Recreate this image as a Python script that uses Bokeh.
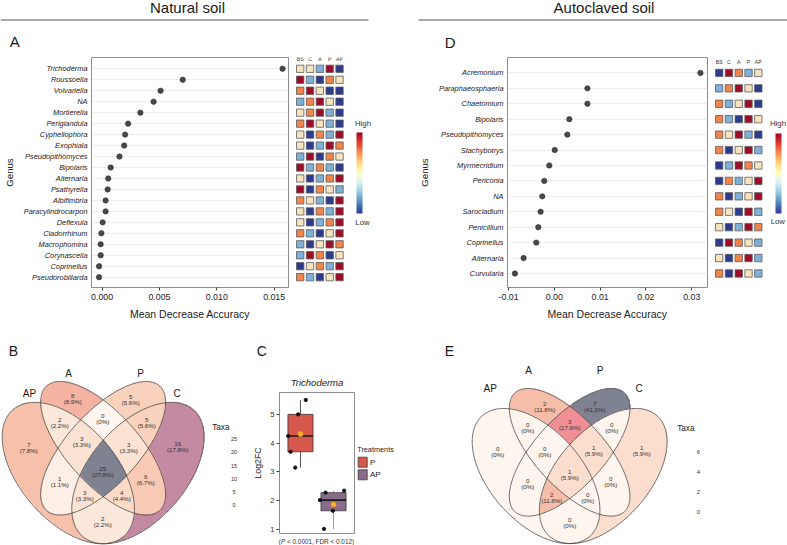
import numpy as np
from bokeh.plotting import figure
from bokeh.layouts import column, row
from bokeh.models import Range1d, FixedTicker, PrintfTickFormatter, ColorBar, LinearColorMapper
from bokeh.core.properties import value
from bokeh.embed import file_html
from bokeh.resources import INLINE

FONT = "Liberation Sans"

# ---------------- data ----------------
heat_cols = ["BS", "C", "A", "P", "AP"]

genus_A = ["Trichoderma", "Roussoella", "Volvariella", "NA", "Mortierella", "Periglandula",
           "Cyphellophora", "Exophiala", "Pseudopithomyces", "Bipolaris", "Alternaria",
           "Psathyrella", "Albifimbria", "Paracylindrocarpon", "Deflexula", "Cladorrhinum",
           "Macrophomina", "Corynascella", "Coprinellus", "Pseudorobillarda"]
mda_A = [0.01573, 0.00703, 0.00510, 0.00449, 0.00334, 0.00227, 0.00201, 0.00193, 0.00152,
         0.00075, 0.00054, 0.00049, 0.00031, 0.00031, 0.00005, -0.00006, -0.00012,
         -0.00012, -0.00026, -0.00026]
heat_A = [[3, 3, 2, 5, 1], [5, 2, 1, 4, 3], [4, 5, 3, 1, 1], [2, 4, 5, 3, 1], [3, 4, 5, 2, 1],
          [4, 5, 3, 2, 1], [3, 1, 4, 2, 5], [3, 1, 2, 5, 4], [2, 5, 1, 4, 3], [5, 2, 4, 2, 1],
          [3, 1, 2, 4, 5], [5, 1, 4, 3, 2], [4, 3, 2, 1, 5], [3, 1, 4, 2, 5], [3, 1, 2, 4, 5],
          [4, 2, 1, 3, 5], [2, 1, 3, 5, 4], [2, 5, 4, 1, 3], [1, 3, 4, 2, 5], [4, 2, 1, 3, 5]]

genus_D = ["Acremonium", "Paraphaeosphaeria", "Chaetomium", "Bipolaris", "Pseudopithomyces",
           "Stachybotrys", "Myrmecridium", "Periconia", "NA", "Sarocladium", "Penicillium",
           "Coprinellus", "Alternaria", "Curvularia"]
mda_D = [0.0319, 0.00723, 0.00723, 0.00328, 0.00285, 0.00009, -0.0011, -0.00219, -0.00263,
         -0.00299, -0.0035, -0.00394, -0.0067, -0.0086]
heat_D = [[1, 5, 4, 2, 3], [2, 4, 5, 3, 1], [4, 2, 3, 5, 1], [4, 2, 1, 5, 3], [4, 3, 5, 2, 1],
          [4, 1, 3, 5, 2], [1, 2, 5, 4, 3], [1, 4, 2, 3, 5], [4, 1, 2, 3, 5], [4, 3, 1, 5, 2],
          [3, 1, 2, 5, 4], [1, 5, 4, 3, 2], [3, 1, 4, 5, 2], [4, 1, 5, 3, 2]]

venn_sets = ["AP", "A", "P", "C"]
venn_regions = ["AP", "A", "P", "C", "A&P", "AP&A", "P&C", "AP&A&P", "A&P&C", "AP&A&P&C",
                "AP&P", "AP&P&C", "AP&A&C", "A&C", "AP&C"]
venn_B = [7, 8, 5, 16, 0, 2, 5, 3, 3, 25, 1, 3, 4, 6, 2]
venn_E = [0, 2, 7, 1, 3, 0, 0, 0, 1, 1, 0, 2, 0, 0, 0]
taxa_ticks_B = [0, 5, 10, 15, 20, 25]
taxa_ticks_E = [0, 2, 4, 6]

box_groups = ["P", "AP"]
box_P = [5.5, 5.0, 4.25, 3.7, 3.15]
box_AP = [2.35, 2.28, 2.02, 1.65, 1.02]
jitter_P = [0.16, -0.07, -0.37, -0.30, -0.16]
jitter_AP = [0.32, -0.24, -0.41, -0.02, -0.29]


# ---------------- helpers ----------------
def canvas(x0, x1, y0, y1):
    p = figure(width=x1 - x0, height=y1 - y0,
               x_range=Range1d(x0, x1), y_range=Range1d(-y1, -y0),
               x_axis_type=None, y_axis_type=None, output_backend="svg",
               toolbar_location=None, min_border=0, frame_align=False)
    p.outline_line_color = None
    return p


def put(p, x, y, s, size, align="center", style="normal", color="#1a1a1a"):
    p.text(x=[x], y=[-y], text=[s], text_font=value(FONT), text_font_size=f"{size}px",
           text_align=align, text_baseline="middle", text_font_style=style, text_color=color)


heat_colors = ["#2c3b8e", "#7fb0d8", "#f6e4c0", "#f1844a", "#9f0c28"]
bar_stops = ["#313695", "#4575b4", "#74add1", "#abd9e9", "#e0f3f8", "#ffffbf",
             "#fee090", "#fdae61", "#f46d43", "#d73027", "#a50026"]


def interp_hex(stops, n):
    rgb = np.array([[int(h[i:i + 2], 16) for i in (1, 3, 5)] for h in stops], dtype=float)
    pos = np.linspace(0, 1, len(stops))
    out = []
    for tt in np.linspace(0, 1, n):
        c = [np.interp(tt, pos, rgb[:, k]) for k in range(3)]
        out.append("#%02x%02x%02x" % tuple(int(round(v)) for v in c))
    return out


bar_pal = interp_hex(bar_stops, 256)

# ---------------- header ----------------
HDR = 56
hdr = canvas(0, 787, 0, HDR)
put(hdr, 187, 6.8, "Natural soil", 15)
put(hdr, 603.5, 6.5, "Autoclaved soil", 15)
hdr.segment(x0=[0, 418], y0=[-19.5, -19.5], x1=[368, 787], y1=[-19.5, -19.5],
            line_color="#555555", line_width=1.2)
put(hdr, 9.3, 41.3, "A", 15, align="left")
put(hdr, 444.3, 41.5, "D", 15, align="left")

FRAME_TOP, FRAME_BOT, MID_BOT = 57, 287, 330


# ---------------- dot plots ----------------
def dot_panel(genera, vals, xr, ticks, fmt, x0, x1, fl, fr, pad_lo, pad_hi):
    n = len(genera)
    ypos = list(range(n - 1, -1, -1))
    yr = Range1d(-pad_lo, n - 1 + pad_hi)
    p = figure(width=x1 - x0, height=MID_BOT - HDR, x_range=Range1d(*xr), y_range=yr,
               output_backend="svg", toolbar_location=None, frame_align=False,
               min_border_left=fl - x0, min_border_right=x1 - fr,
               min_border_top=FRAME_TOP - HDR, min_border_bottom=MID_BOT - FRAME_BOT)
    p.outline_line_color = "#8c8c8c"
    p.outline_line_width = 1
    p.xgrid.visible = False
    ya = p.yaxis[0]
    ya.ticker = FixedTicker(ticks=ypos)
    p.ygrid.ticker = FixedTicker(ticks=ypos)
    p.ygrid.grid_line_color = "#d4d4d4"
    p.ygrid.grid_line_dash = "2 2"
    p.ygrid.grid_line_width = 0.8
    ya.major_label_overrides = {y: g for g, y in zip(genera, ypos)}
    ya.major_label_text_font = FONT
    ya.major_label_text_font_style = "italic"
    ya.major_label_text_font_size = "7.4px"
    ya.major_label_text_color = "#222222"
    ya.major_tick_line_color = None
    ya.major_tick_out = 0
    ya.major_tick_in = 0
    ya.minor_tick_line_color = None
    ya.axis_line_color = None
    ya.major_label_standoff = 4
    ya.axis_label = "Genus"
    ya.axis_label_text_font = FONT
    ya.axis_label_text_font_size = "9.6px"
    ya.axis_label_text_font_style = "normal"
    ya.axis_label_text_color = "#222222"
    ya.axis_label_standoff = 6
    xa = p.xaxis[0]
    xa.ticker = FixedTicker(ticks=ticks)
    xa.formatter = PrintfTickFormatter(format=fmt)
    xa.major_tick_out = 3
    xa.major_tick_in = 0
    xa.major_tick_line_color = "#444444"
    xa.minor_tick_line_color = None
    xa.axis_line_color = None
    xa.major_label_text_font = FONT
    xa.major_label_text_font_size = "8.8px"
    xa.major_label_text_color = "#222222"
    xa.major_label_standoff = 3
    xa.axis_label = "Mean Decrease Accuracy"
    xa.axis_label_text_font = FONT
    xa.axis_label_text_font_size = "10.5px"
    xa.axis_label_text_font_style = "normal"
    xa.axis_label_text_color = "#222222"
    xa.axis_label_standoff = 5
    p.scatter(x=vals, y=ypos, size=5.4, fill_color="#484848", line_color="#303030", line_width=0.6)
    return p, yr


def heat_panel(heat, yr, x0, x1, col0, step, cell_h, head_off, bar, high, low):
    n = len(heat)
    p = figure(width=x1 - x0, height=MID_BOT - HDR,
               x_range=Range1d((x0 - col0) / step, (x1 - col0) / step), y_range=yr,
               x_axis_type=None, y_axis_type=None, output_backend="svg",
               toolbar_location=None, min_border_left=0, min_border_right=0, frame_align=False,
               min_border_top=FRAME_TOP - HDR, min_border_bottom=MID_BOT - FRAME_BOT)
    p.outline_line_color = None
    xs, ys, cs = [], [], []
    for i, r in enumerate(heat):
        for j, lev in enumerate(r):
            xs.append(j)
            ys.append(n - 1 - i)
            cs.append(heat_colors[lev - 1])
    p.rect(x=xs, y=ys, width=0.75, height=cell_h, fill_color=cs, line_color="#5b5b5b",
           line_width=0.8)
    p.text(x=list(range(len(heat_cols))), y=[n - 1 + head_off] * len(heat_cols), text=heat_cols,
           text_font=value(FONT), text_font_size="5.2px", text_align="center",
           text_baseline="middle", text_color="#333333")
    bx0, by0, bw, bh = bar
    cb = ColorBar(color_mapper=LinearColorMapper(palette=bar_pal, low=1, high=5),
                  location=(bx0 - x0, FRAME_BOT - by0), width=int(round(bw)),
                  height=int(round(bh)), ticker=FixedTicker(ticks=[]), padding=0, margin=0,
                  major_tick_line_color=None, bar_line_color=None,
                  border_line_color=None, background_fill_alpha=0, label_standoff=0)
    p.add_layout(cb)
    span = yr.end - yr.start

    def ydat(ref_y):
        return yr.end - (ref_y - FRAME_TOP) / (FRAME_BOT - FRAME_TOP) * span

    p.text(x=[(high[0] - col0) / step, (low[0] - col0) / step], y=[ydat(high[1]), ydat(low[1])],
           text=["High", "Low"], text_font=value(FONT), text_font_size="7.8px",
           text_align="center", text_baseline="middle", text_color="#333333")
    return p


dotA, yrA = dot_panel(genus_A, mda_A, (-0.00092, 0.01625), [0, 0.005, 0.010, 0.015], "%.3f",
                      0, 292, 89, 288, 0.94, 1.03)
heatA = heat_panel(heat_A, yrA, 292, 393, 299.7, 9.83, 0.665, 0.87,
                   (356, 213, 6, 81), (362.5, 122.7), (362, 221.7))
dotD, yrD = dot_panel(genus_D, mda_D, (-0.01022, 0.03344), [-0.01, 0, 0.01, 0.02, 0.03], "%.2f",
                      393, 708, 507, 707, 0.91, 1.0)
heatD = heat_panel(heat_D, yrD, 708, 787, 718.7, 9.78, 0.475, 0.74,
                   (775, 213, 5.5, 80), (777.5, 123), (777.3, 221))

# ---------------- letters strip ----------------
strip = canvas(0, 787, MID_BOT, 365)
put(strip, 8.3, 350, "B", 14, align="left")
put(strip, 256.2, 350, "C", 14, align="left")
put(strip, 444.3, 350, "E", 14, align="left")

# ---------------- Venn diagrams ----------------
ELL = [(0.35, 0.47, 0.35, 0.20, 135), (0.50, 0.57, 0.35, 0.15, 135),
       (0.50, 0.57, 0.35, 0.15, 45), (0.65, 0.47, 0.35, 0.20, 45)]
U0, VT = 0.06496, 0.83926
venn_stops = ["#fef5ee", "#fbddcb", "#f6bba5", "#ef8f95", "#c48aa2", "#7e8291"]
venn_pos = [0.0, 0.15, 0.30, 0.43, 0.64, 1.0]


def venn_color(t):
    rgb = np.array([[int(h[i:i + 2], 16) for i in (1, 3, 5)] for h in venn_stops], dtype=float)
    return [int(round(np.interp(t, venn_pos, rgb[:, k]))) for k in range(3)]


def pct(c, tot):
    return "0%" if c == 0 else f"{100 * c / tot:.1f}%"


def pole(mask, GX, GY):
    """pole of inaccessibility of a rasterised region (point farthest from its edge)"""
    pad = np.pad(mask, 1, constant_values=False)
    inner = (pad[1:-1, 1:-1] & pad[:-2, 1:-1] & pad[2:, 1:-1] & pad[1:-1, :-2] & pad[1:-1, 2:])
    bnd = mask & ~inner
    P = np.c_[GX[mask], GY[mask]]
    B = np.c_[GX[bnd], GY[bnd]]
    best, bp = -1.0, (P[0, 0], P[0, 1])
    for idx in np.array_split(np.arange(len(P)), max(1, len(P) // 1500)):
        d = ((P[idx, None, :] - B[None, :, :]) ** 2).sum(-1).min(1)
        k = int(np.argmax(d))
        if d[k] > best:
            best, bp = float(d[k]), (float(P[idx][k, 0]), float(P[idx][k, 1]))
    return bp


def venn_panel(p, counts, X0, kx, Yt, ky, box):
    x0, x1, y0, y1 = box
    res = 2.0
    nx, ny = int((x1 - x0) * res), int((y1 - y0) * res)
    gx = x0 + (np.arange(nx) + 0.5) / res
    gy = y0 + (np.arange(ny) + 0.5) / res
    GX, GY = np.meshgrid(gx, gy)
    U = U0 + (GX - X0) / kx
    V = VT - (GY - Yt) / ky
    code = np.zeros(GX.shape, dtype=int)
    for k, (cx, cy, a, b, rot) in enumerate(ELL):
        th = np.radians(rot)
        dx, dy = U - cx, V - cy
        xl = dx * np.cos(th) + dy * np.sin(th)
        yl = -dx * np.sin(th) + dy * np.cos(th)
        code |= (((xl / a) ** 2 + (yl / b) ** 2) <= 1).astype(int) << k
    rgba = np.zeros((ny, nx, 4), dtype=np.uint8)
    tot = sum(counts)
    cmax = max(counts)
    lx, ly1, ly2, l1, l2 = [], [], [], [], []
    for name, c in zip(venn_regions, counts):
        bits = sum(1 << venn_sets.index(s) for s in name.split("&"))
        m = code == bits
        if not m.any():
            continue
        rgba[m, :3] = venn_color(c / cmax)
        rgba[m, 3] = 255
        cxp, cyp = pole(m[::2, ::2], GX[::2, ::2], GY[::2, ::2])
        lx.append(cxp)
        ly1.append(-(cyp - 3.0))
        ly2.append(-(cyp + 3.2))
        l1.append(str(c))
        l2.append(f"({pct(c, tot)})")
    img = np.ascontiguousarray(rgba[::-1]).view(np.uint32).reshape(ny, nx)
    p.image_rgba(image=[img], x=x0, y=-y1, dw=x1 - x0, dh=y1 - y0)
    t = np.linspace(0, 2 * np.pi, 300)
    for (cx, cy, a, b, rot) in ELL:
        th = np.radians(rot)
        u = cx + a * np.cos(t) * np.cos(th) - b * np.sin(t) * np.sin(th)
        v = cy + a * np.cos(t) * np.sin(th) + b * np.sin(t) * np.cos(th)
        p.line(X0 + (u - U0) * kx, -(Yt + (VT - v) * ky), line_color="#3c3c3c", line_width=0.75)
    for yy, tt in ((ly1, l1), (ly2, l2)):
        p.text(x=lx, y=yy, text=tt, text_font=value(FONT), text_font_size="6.2px",
               text_align="center", text_baseline="middle", text_color="#333333")


BOT0 = 365
vennB = canvas(0, 250, BOT0, 545)
venn_panel(vennB, venn_B, 1.7, 232, 381, 248, (0, 208, 376, 545))
for s, x, y in (("AP", 29, 393.3), ("A", 68, 372.7), ("P", 140, 372.7), ("C", 176.5, 393.3)):
    put(vennB, x, y, s, 10)
put(vennB, 211.7, 427.2, "Taxa", 8.2, align="left")
for v in taxa_ticks_B:
    put(vennB, 233.5, 504.7 - v * 66 / 25, str(v), 5.6, color="#333333")

vennE = canvas(405, 787, BOT0, 545)
venn_panel(vennE, venn_E, 471.7, 224, 388, 237, (468, 670, 383, 545))
for s, x, y in (("AP", 489.7, 388.3), ("A", 528, 370), ("P", 599.7, 370), ("C", 638.7, 388.3)):
    put(vennE, x, y, s, 10)
put(vennE, 676.7, 428.3, "Taxa", 8.2, align="left")
for v in taxa_ticks_E:
    put(vennE, 698, 511.7 - v * 10, str(v), 6, color="#333333")

# ---------------- box plot ----------------
CAP0 = 534
boxC = figure(width=356 - 250, height=CAP0 - BOT0,
              x_range=Range1d(-0.135, 2.135), y_range=Range1d(0.86, 5.76),
              output_backend="svg", toolbar_location=None, frame_align=False,
              x_axis_type=None,
              min_border_left=278 - 250, min_border_right=356 - 354,
              min_border_top=392 - BOT0, min_border_bottom=CAP0 - 533)
boxC.outline_line_color = "#8c8c8c"
boxC.grid.visible = False
ya = boxC.yaxis[0]
ya.ticker = FixedTicker(ticks=[1, 2, 3, 4, 5])
ya.major_tick_out = 3
ya.major_tick_in = 0
ya.major_tick_line_color = "#444444"
ya.minor_tick_line_color = None
ya.axis_line_color = None
ya.major_label_text_font = FONT
ya.major_label_text_font_size = "7.5px"
ya.major_label_text_color = "#333333"
ya.major_label_standoff = 2
ya.axis_label = "Log2FC"
ya.axis_label_text_font = FONT
ya.axis_label_text_font_size = "8.8px"
ya.axis_label_text_font_style = "normal"
ya.axis_label_text_color = "#222222"
ya.axis_label_standoff = 4
boxC.title.text = "Trichoderma"
boxC.title.align = "center"
boxC.title.text_font = FONT
boxC.title.text_font_style = "italic"
boxC.title.text_font_size = "9.5px"
boxC.title.text_color = "#222222"

groups_vals = [box_P, box_AP]
groups_jit = [jitter_P, jitter_AP]
fills = ["#d6574b", "#8b6b8c"]
whisk_col = ["#555555", "#9a9a9a"]
xc = [i + 0.5 for i in range(len(box_groups))]
q1s, meds, q3s, los, his, means = [], [], [], [], [], []
for vals in groups_vals:
    q1, md, q3 = np.percentile(vals, [25, 50, 75])
    iqr = q3 - q1
    q1s.append(float(q1)); meds.append(float(md)); q3s.append(float(q3))
    los.append(min(v for v in vals if v >= q1 - 1.5 * iqr))
    his.append(max(v for v in vals if v <= q3 + 1.5 * iqr))
    means.append(float(np.mean(vals)))
bw = 0.76
boxC.segment(x0=xc, x1=xc, y0=los, y1=q1s, line_color=whisk_col, line_width=1)
boxC.segment(x0=xc, x1=xc, y0=q3s, y1=his, line_color=whisk_col, line_width=1)
boxC.vbar(x=xc, width=bw, bottom=q1s, top=q3s, fill_color=fills,
          line_color="#3a3a3a", line_width=0.8)
boxC.segment(x0=[x - bw / 2 for x in xc], x1=[x + bw / 2 for x in xc], y0=meds, y1=meds,
             line_color="#1a1a1a", line_width=1.6)
pxs, pys = [], []
for x, vals, jit in zip(xc, groups_vals, groups_jit):
    pxs += [x + j for j in jit]
    pys += list(vals)
boxC.scatter(x=pxs, y=pys, size=3.3, color="#111111")
boxC.scatter(x=xc, y=means, size=5, fill_color="#f9b233", line_color="#ef9a1a", line_width=0.8)

# caption under the box plot, with italic P (pieces placed with a space gap between them)
cap = canvas(250, 356, CAP0, 545)
cap_fs = 6.4
parts = [("(", "normal", 0.333, 0.0), ("P", "italic", 0.667, 0.0),
         ("< 0.0001, FDR < 0.012)", "normal", 10.5, 0.278)]
cx = 316 - sum(w + g for _, _, w, g in parts) * cap_fs / 2
for s, st, w, g in parts:
    cx += g * cap_fs
    put(cap, cx, 540.2, s, cap_fs, align="left", style=st, color="#333333")
    cx += w * cap_fs

# legend for the box plot
legc = canvas(356, 405, BOT0, 545)
put(legc, 356.7, 449.2, "Treatments", 7.3, align="left")
sw_y = [461.7, 474.3]
legc.rect(x=[362.2] * len(box_groups), y=[-v for v in sw_y], width=9, height=10,
          fill_color=fills, line_color="#3a3a3a", line_width=0.8)
for g, yv in zip(box_groups, sw_y):
    put(legc, 369.5, yv, g, 8, align="left", color="#222222")

layout = column(hdr, row(dotA, heatA, dotD, heatD), strip,
                row(vennB, column(boxC, cap), legc, vennE))
open("out.html", "w").write(file_html(layout, INLINE, "Natural vs autoclaved soil"))
